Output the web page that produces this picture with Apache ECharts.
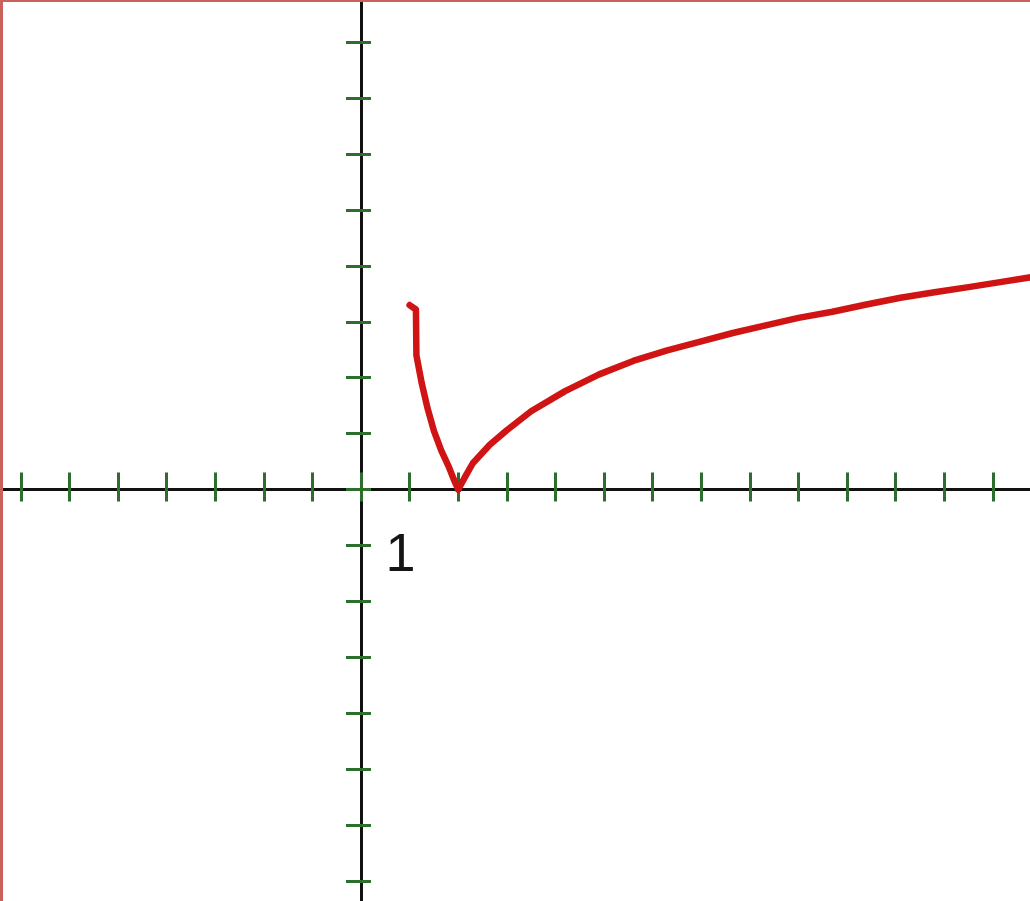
<!DOCTYPE html>
<html>
<head>
<meta charset="utf-8">
<title>Graph</title>
<script src="https://cdn.jsdelivr.net/npm/echarts@6/dist/echarts.min.js"></script>
<style>
  html, body { margin: 0; padding: 0; background: #ffffff; }
  #wrap { position: relative; width: 1030px; height: 901px; }
  #chart { position: absolute; left: 0; top: 0; width: 1030px; height: 901px; }
  #frame {
    position: absolute; left: 0; top: 0; width: 1030px; height: 901px;
    box-sizing: border-box; border-left: 3px solid #c8625c; border-top: 2px solid #c8625c;
    pointer-events: none;
  }
</style>
</head>
<body>
<div id="wrap">
  <div id="chart"></div>
  <div id="frame"></div>
</div>
<script>
// Tick positions on each axis (unit spacing)
var xTicks = [-7, -6, -5, -4, -3, -2, -1, 0, 1, 2, 3, 4, 5, 6, 7, 8, 9, 10, 11, 12, 13];
var yTicks = [-7, -6, -5, -4, -3, -2, -1, 0, 1, 2, 3, 4, 5, 6, 7, 8];
// Unit label placed under the first tick right of the origin
var unitLabel = '1';
var unitLabelTick = 1;

// Curve: steep left branch falling to the cusp, then slow rise to the right
var leftBranch = [
  [1.00, 3.30], [1.13, 3.22], [1.14, 2.40], [1.25, 1.90], [1.37, 1.45],
  [1.50, 1.05], [1.65, 0.70], [1.80, 0.42], [1.90, 0.20], [2.00, 0.00]
];
var rightBranch = [
  [2.00, 0.00], [2.15, 0.24], [2.30, 0.47], [2.65, 0.80], [3.00, 1.06],
  [3.50, 1.40], [4.20, 1.76], [4.90, 2.06], [5.60, 2.30], [6.30, 2.49],
  [7.00, 2.65], [7.65, 2.80], [8.35, 2.94], [9.00, 3.07], [9.70, 3.18],
  [10.40, 3.31], [11.10, 3.43], [11.80, 3.53], [12.50, 3.62], [13.15, 3.71],
  [13.80, 3.80]
];

// Visible window of the plane
var xMin = -7.428, xMax = 13.765;
var yMin = -7.361, yMax = 8.757;

var axisColor = '#111111';
var tickColor = '#2d6e2d';
var curveColor = '#d01414';

function xAxisDef(pos, tickLen, showLine) {
  return {
    type: 'value', position: pos, min: xMin, max: xMax,
    axisLine: { show: showLine, onZero: true, lineStyle: { color: axisColor, width: 3 } },
    axisTick: { show: true, customValues: xTicks, length: tickLen, lineStyle: { color: tickColor, width: 3 } },
    axisLabel: { show: false },
    splitLine: { show: false }
  };
}
function yAxisDef(pos, tickLen, showLine) {
  return {
    type: 'value', position: pos, min: yMin, max: yMax,
    axisLine: { show: showLine, onZero: true, lineStyle: { color: axisColor, width: 3 } },
    axisTick: { show: true, customValues: yTicks, length: tickLen, lineStyle: { color: tickColor, width: 3 } },
    axisLabel: { show: false },
    splitLine: { show: false }
  };
}

var chart = echarts.init(document.getElementById('chart'), null, { renderer: 'canvas' });
chart.setOption({
  backgroundColor: '#ffffff',
  animation: false,
  grid: { left: 0, right: 0, top: 0, bottom: 0, containLabel: false, outerBoundsMode: 'none' },
  xAxis: [
    xAxisDef('bottom', 12, true),
    xAxisDef('top', 17, false)
  ],
  yAxis: [
    yAxisDef('left', 15, true),
    yAxisDef('right', 10, false)
  ],
  series: [
    {
      type: 'line', xAxisIndex: 0, yAxisIndex: 0, data: leftBranch,
      showSymbol: false, smooth: false, z: 5,
      lineStyle: { color: curveColor, width: 6.5, cap: 'round', join: 'round' }
    },
    {
      type: 'line', xAxisIndex: 0, yAxisIndex: 0, data: rightBranch,
      showSymbol: false, smooth: false, z: 5,
      lineStyle: { color: curveColor, width: 6.5, cap: 'round', join: 'round' }
    }
  ]
});

// Place the unit label relative to its tick on the x axis
var tickPx = chart.convertToPixel({ xAxisIndex: 0, yAxisIndex: 0 }, [unitLabelTick, 0]);
chart.setOption({
  graphic: [{
    type: 'text',
    x: tickPx[0] - 9,
    y: tickPx[1] + 67,
    z: 10,
    style: {
      text: unitLabel,
      fill: '#151515',
      font: '54px "Liberation Sans", Arial, sans-serif',
      textAlign: 'center',
      textVerticalAlign: 'middle'
    }
  }]
});
</script>
</body>
</html>
